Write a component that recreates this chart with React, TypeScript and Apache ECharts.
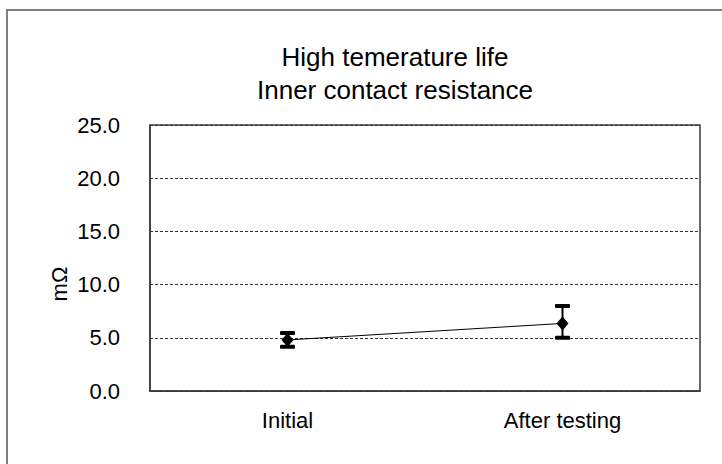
import React, { useEffect, useRef } from "react";
import * as echarts from "echarts";

const categories = ["Initial", "After testing"];
const meanValues = [4.8, 6.35];
const lowValues = [4.15, 5.0];
const highValues = [5.45, 8.0];
const titleLines = ["High temerature life", "Inner contact resistance"];
const yAxisName = "mΩ";

const FONT = "'Liberation Sans', Arial, sans-serif";

export default function App() {
  const ref = useRef<HTMLDivElement>(null);
  useEffect(() => {
    if (!ref.current) return;
    const chart = echarts.init(ref.current, undefined, { renderer: "svg" });
    chart.setOption({
      animation: false,
      backgroundColor: "#fff",
      textStyle: { fontFamily: FONT },
      title: {
        text: titleLines.join("\n"),
        left: 390,
        top: 35,
        textAlign: "center",
        textStyle: {
          fontFamily: FONT,
          fontSize: 26,
          fontWeight: "normal",
          color: "#000",
          lineHeight: 33,
        },
      },
      graphic: [
        {
          type: "rect",
          shape: { x: 7, y: 10, width: 800, height: 500 },
          style: { fill: "none", stroke: "#7f7f7f", lineWidth: 2 },
          silent: true,
          z: -10,
        },
        {
          type: "text",
          x: 59,
          y: 284,
          rotation: Math.PI / 2,
          style: {
            text: yAxisName,
            fontFamily: FONT,
            fontSize: 22,
            fill: "#000",
            align: "center",
            verticalAlign: "middle",
          },
        },
      ],
      grid: {
        left: 150,
        right: 22,
        top: 125,
        bottom: 73,
        show: true,
        borderColor: "#3a3a3a",
        borderWidth: 1.5,
        backgroundColor: "transparent",
      },
      xAxis: {
        type: "category",
        data: categories,
        boundaryGap: true,
        axisTick: { show: false },
        axisLine: { show: true, lineStyle: { color: "#3a3a3a", width: 1.5 } },
        axisLabel: { fontFamily: FONT, fontSize: 22, color: "#000", margin: 18 },
        splitLine: { show: false },
      },
      yAxis: {
        type: "value",
        min: 0,
        max: 25,
        interval: 5,
        axisTick: { show: false },
        axisLine: { show: true, lineStyle: { color: "#3a3a3a", width: 1.5 } },
        axisLabel: {
          fontFamily: FONT,
          fontSize: 22,
          color: "#000",
          margin: 30,
          formatter: (v: number) => v.toFixed(1),
        },
        splitLine: {
          show: true,
          lineStyle: { color: "#333", width: 1, type: [3, 2] },
        },
      },
      series: [
        {
          type: "line",
          data: meanValues,
          symbol: "diamond",
          symbolSize: [12, 14],
          itemStyle: { color: "#000" },
          lineStyle: { color: "#000", width: 1 },
          z: 5,
        },
        {
          type: "custom",
          data: categories.map((_, i) => [i, lowValues[i], highValues[i]]),
          encode: { x: 0, y: [1, 2] },
          z: 4,
          renderItem: (params: any, api: any) => {
            const lo = api.coord([api.value(0), api.value(1)]);
            const hi = api.coord([api.value(0), api.value(2)]);
            const x = lo[0];
            const capW = 15;
            const capH = 4;
            return {
              type: "group",
              children: [
                {
                  type: "line",
                  shape: { x1: x, y1: hi[1], x2: x, y2: lo[1] },
                  style: { stroke: "#000", lineWidth: 2 },
                },
                {
                  type: "rect",
                  shape: { x: x - capW / 2, y: hi[1] - capH / 2, width: capW, height: capH, r: 1 },
                  style: { fill: "#000" },
                },
                {
                  type: "rect",
                  shape: { x: x - capW / 2, y: lo[1] - capH / 2, width: capW, height: capH, r: 1 },
                  style: { fill: "#000" },
                },
              ],
            };
          },
        },
      ],
    });
    return () => chart.dispose();
  }, []);
  return (
    <div
      ref={ref}
      style={{ position: "fixed", left: 0, top: 0, width: 722, height: 464 }}
    />
  );
}
